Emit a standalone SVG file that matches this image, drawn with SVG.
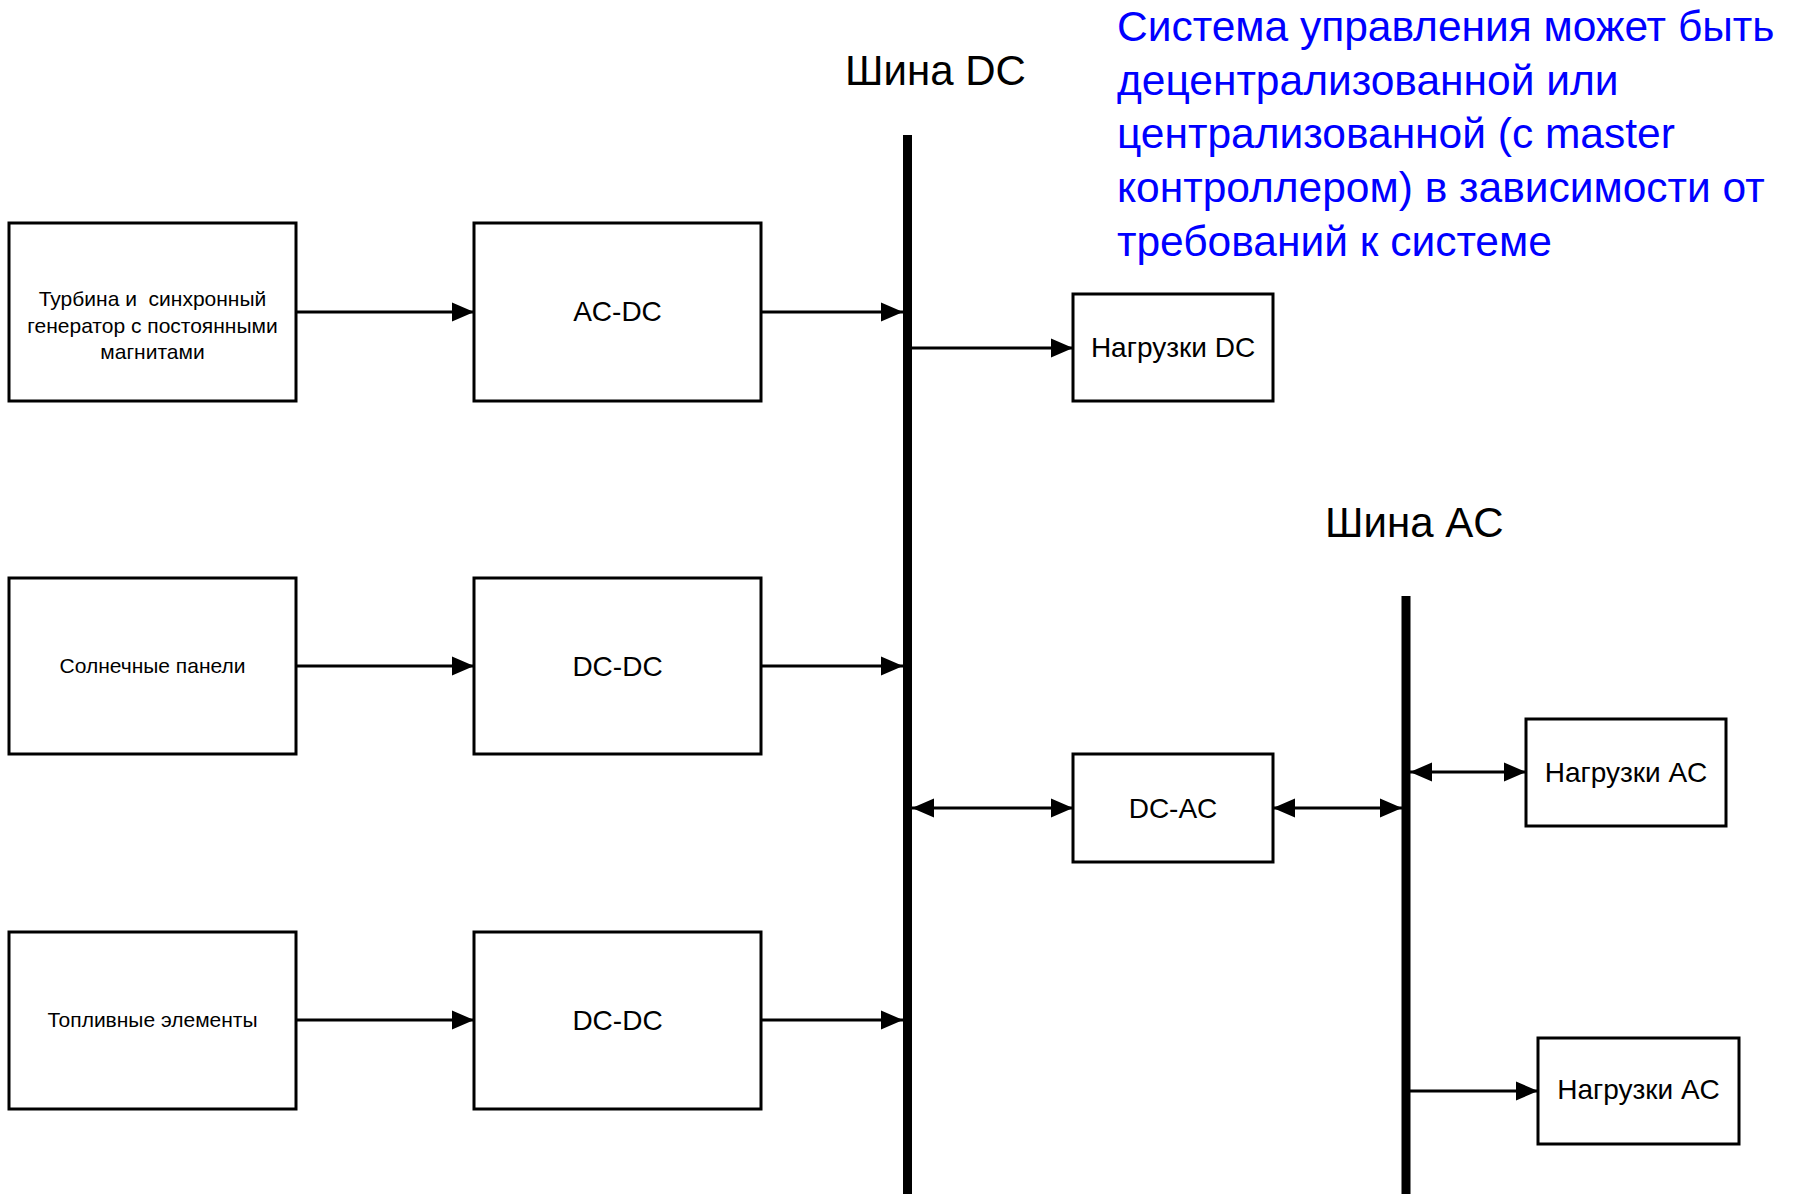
<svg xmlns="http://www.w3.org/2000/svg" width="1793" height="1194" viewBox="0 0 1793 1194">
<style>
  .box { fill: #ffffff; stroke: #000000; stroke-width: 3; }
  .lbl { font-family: "Liberation Sans", Arial, sans-serif; fill: #000000; text-anchor: middle; }
  .small { font-size: 21px; }
  .mid { font-size: 28px; }
  .big { font-family: "Liberation Sans", Arial, sans-serif; font-size: 42px; fill: #000000; }
  .note { font-family: "Liberation Sans", Arial, sans-serif; font-size: 42.5px; fill: #0000FF; }
  .conn { stroke: #000000; stroke-width: 3; fill: none; }
  .bus { stroke: #000000; stroke-width: 9; fill: none; }
</style>
<defs>
  <marker id="arrowEnd" markerUnits="userSpaceOnUse" markerWidth="22" markerHeight="20" refX="22" refY="10" orient="auto" viewBox="0 0 22 20">
    <path d="M0,0.5 L22,10 L0,19.5 Z" fill="#000000"/>
  </marker>
  <marker id="arrowStart" markerUnits="userSpaceOnUse" markerWidth="22" markerHeight="20" refX="0" refY="10" orient="auto" viewBox="0 0 22 20">
    <path d="M22,0.5 L0,10 L22,19.5 Z" fill="#000000"/>
  </marker>
</defs>
<rect x="0" y="0" width="1793" height="1194" fill="#ffffff"/>

<g id="bus-dc">
  <line class="bus" x1="907.5" y1="135" x2="907.5" y2="1194"/>
  <text class="big" x="845" y="85">Шина DC</text>
</g>
<g id="bus-ac">
  <line class="bus" x1="1406" y1="596" x2="1406" y2="1194"/>
  <text class="big" x="1325" y="537">Шина AC</text>
</g>

<g id="note">
  <text class="note" x="1117" y="41">Система управления может быть</text>
  <text class="note" x="1117" y="94.5">децентрализованной или</text>
  <text class="note" x="1117" y="148">централизованной (с master</text>
  <text class="note" x="1117" y="202">контроллером) в зависимости от</text>
  <text class="note" x="1117" y="256">требований к системе</text>
</g>

<g id="turbine">
  <rect class="box" x="9" y="223" width="287" height="178"/>
  <text class="lbl small" x="152.5" y="306" xml:space="preserve">Турбина и  синхронный</text>
  <text class="lbl small" x="152.5" y="332.5">генератор с постоянными</text>
  <text class="lbl small" x="152.5" y="359">магнитами</text>
</g>
<g id="solar">
  <rect class="box" x="9" y="578" width="287" height="176"/>
  <text class="lbl small" x="152.5" y="673">Солнечные панели</text>
</g>
<g id="fuel">
  <rect class="box" x="9" y="932" width="287" height="177"/>
  <text class="lbl small" x="152.5" y="1027">Топливные элементы</text>
</g>

<g id="acdc">
  <rect class="box" x="474" y="223" width="287" height="178"/>
  <text class="lbl mid" x="617.5" y="321">AC-DC</text>
</g>
<g id="dcdc1">
  <rect class="box" x="474" y="578" width="287" height="176"/>
  <text class="lbl mid" x="617.5" y="676">DC-DC</text>
</g>
<g id="dcdc2">
  <rect class="box" x="474" y="932" width="287" height="177"/>
  <text class="lbl mid" x="617.5" y="1030">DC-DC</text>
</g>

<g id="load-dc">
  <rect class="box" x="1073" y="294" width="200" height="107"/>
  <text class="lbl mid" x="1173" y="357">Нагрузки DC</text>
</g>
<g id="dcac">
  <rect class="box" x="1073" y="754" width="200" height="108"/>
  <text class="lbl mid" x="1173" y="818">DC-AC</text>
</g>
<g id="load-ac1">
  <rect class="box" x="1526" y="719" width="200" height="107"/>
  <text class="lbl mid" x="1626" y="782">Нагрузки AC</text>
</g>
<g id="load-ac2">
  <rect class="box" x="1538" y="1038" width="201" height="106"/>
  <text class="lbl mid" x="1638.5" y="1099">Нагрузки AC</text>
</g>

<g id="connectors">
  <line class="conn" x1="296" y1="312" x2="474" y2="312" marker-end="url(#arrowEnd)"/>
  <line class="conn" x1="761" y1="312" x2="903" y2="312" marker-end="url(#arrowEnd)"/>
  <line class="conn" x1="296" y1="666" x2="474" y2="666" marker-end="url(#arrowEnd)"/>
  <line class="conn" x1="761" y1="666" x2="903" y2="666" marker-end="url(#arrowEnd)"/>
  <line class="conn" x1="296" y1="1020" x2="474" y2="1020" marker-end="url(#arrowEnd)"/>
  <line class="conn" x1="761" y1="1020" x2="903" y2="1020" marker-end="url(#arrowEnd)"/>
  <line class="conn" x1="912" y1="348" x2="1073" y2="348" marker-end="url(#arrowEnd)"/>
  <line class="conn" x1="912" y1="808" x2="1073" y2="808" marker-start="url(#arrowStart)" marker-end="url(#arrowEnd)"/>
  <line class="conn" x1="1273" y1="808" x2="1402" y2="808" marker-start="url(#arrowStart)" marker-end="url(#arrowEnd)"/>
  <line class="conn" x1="1410" y1="772" x2="1526" y2="772" marker-start="url(#arrowStart)" marker-end="url(#arrowEnd)"/>
  <line class="conn" x1="1410" y1="1091" x2="1538" y2="1091" marker-end="url(#arrowEnd)"/>
</g>
</svg>
